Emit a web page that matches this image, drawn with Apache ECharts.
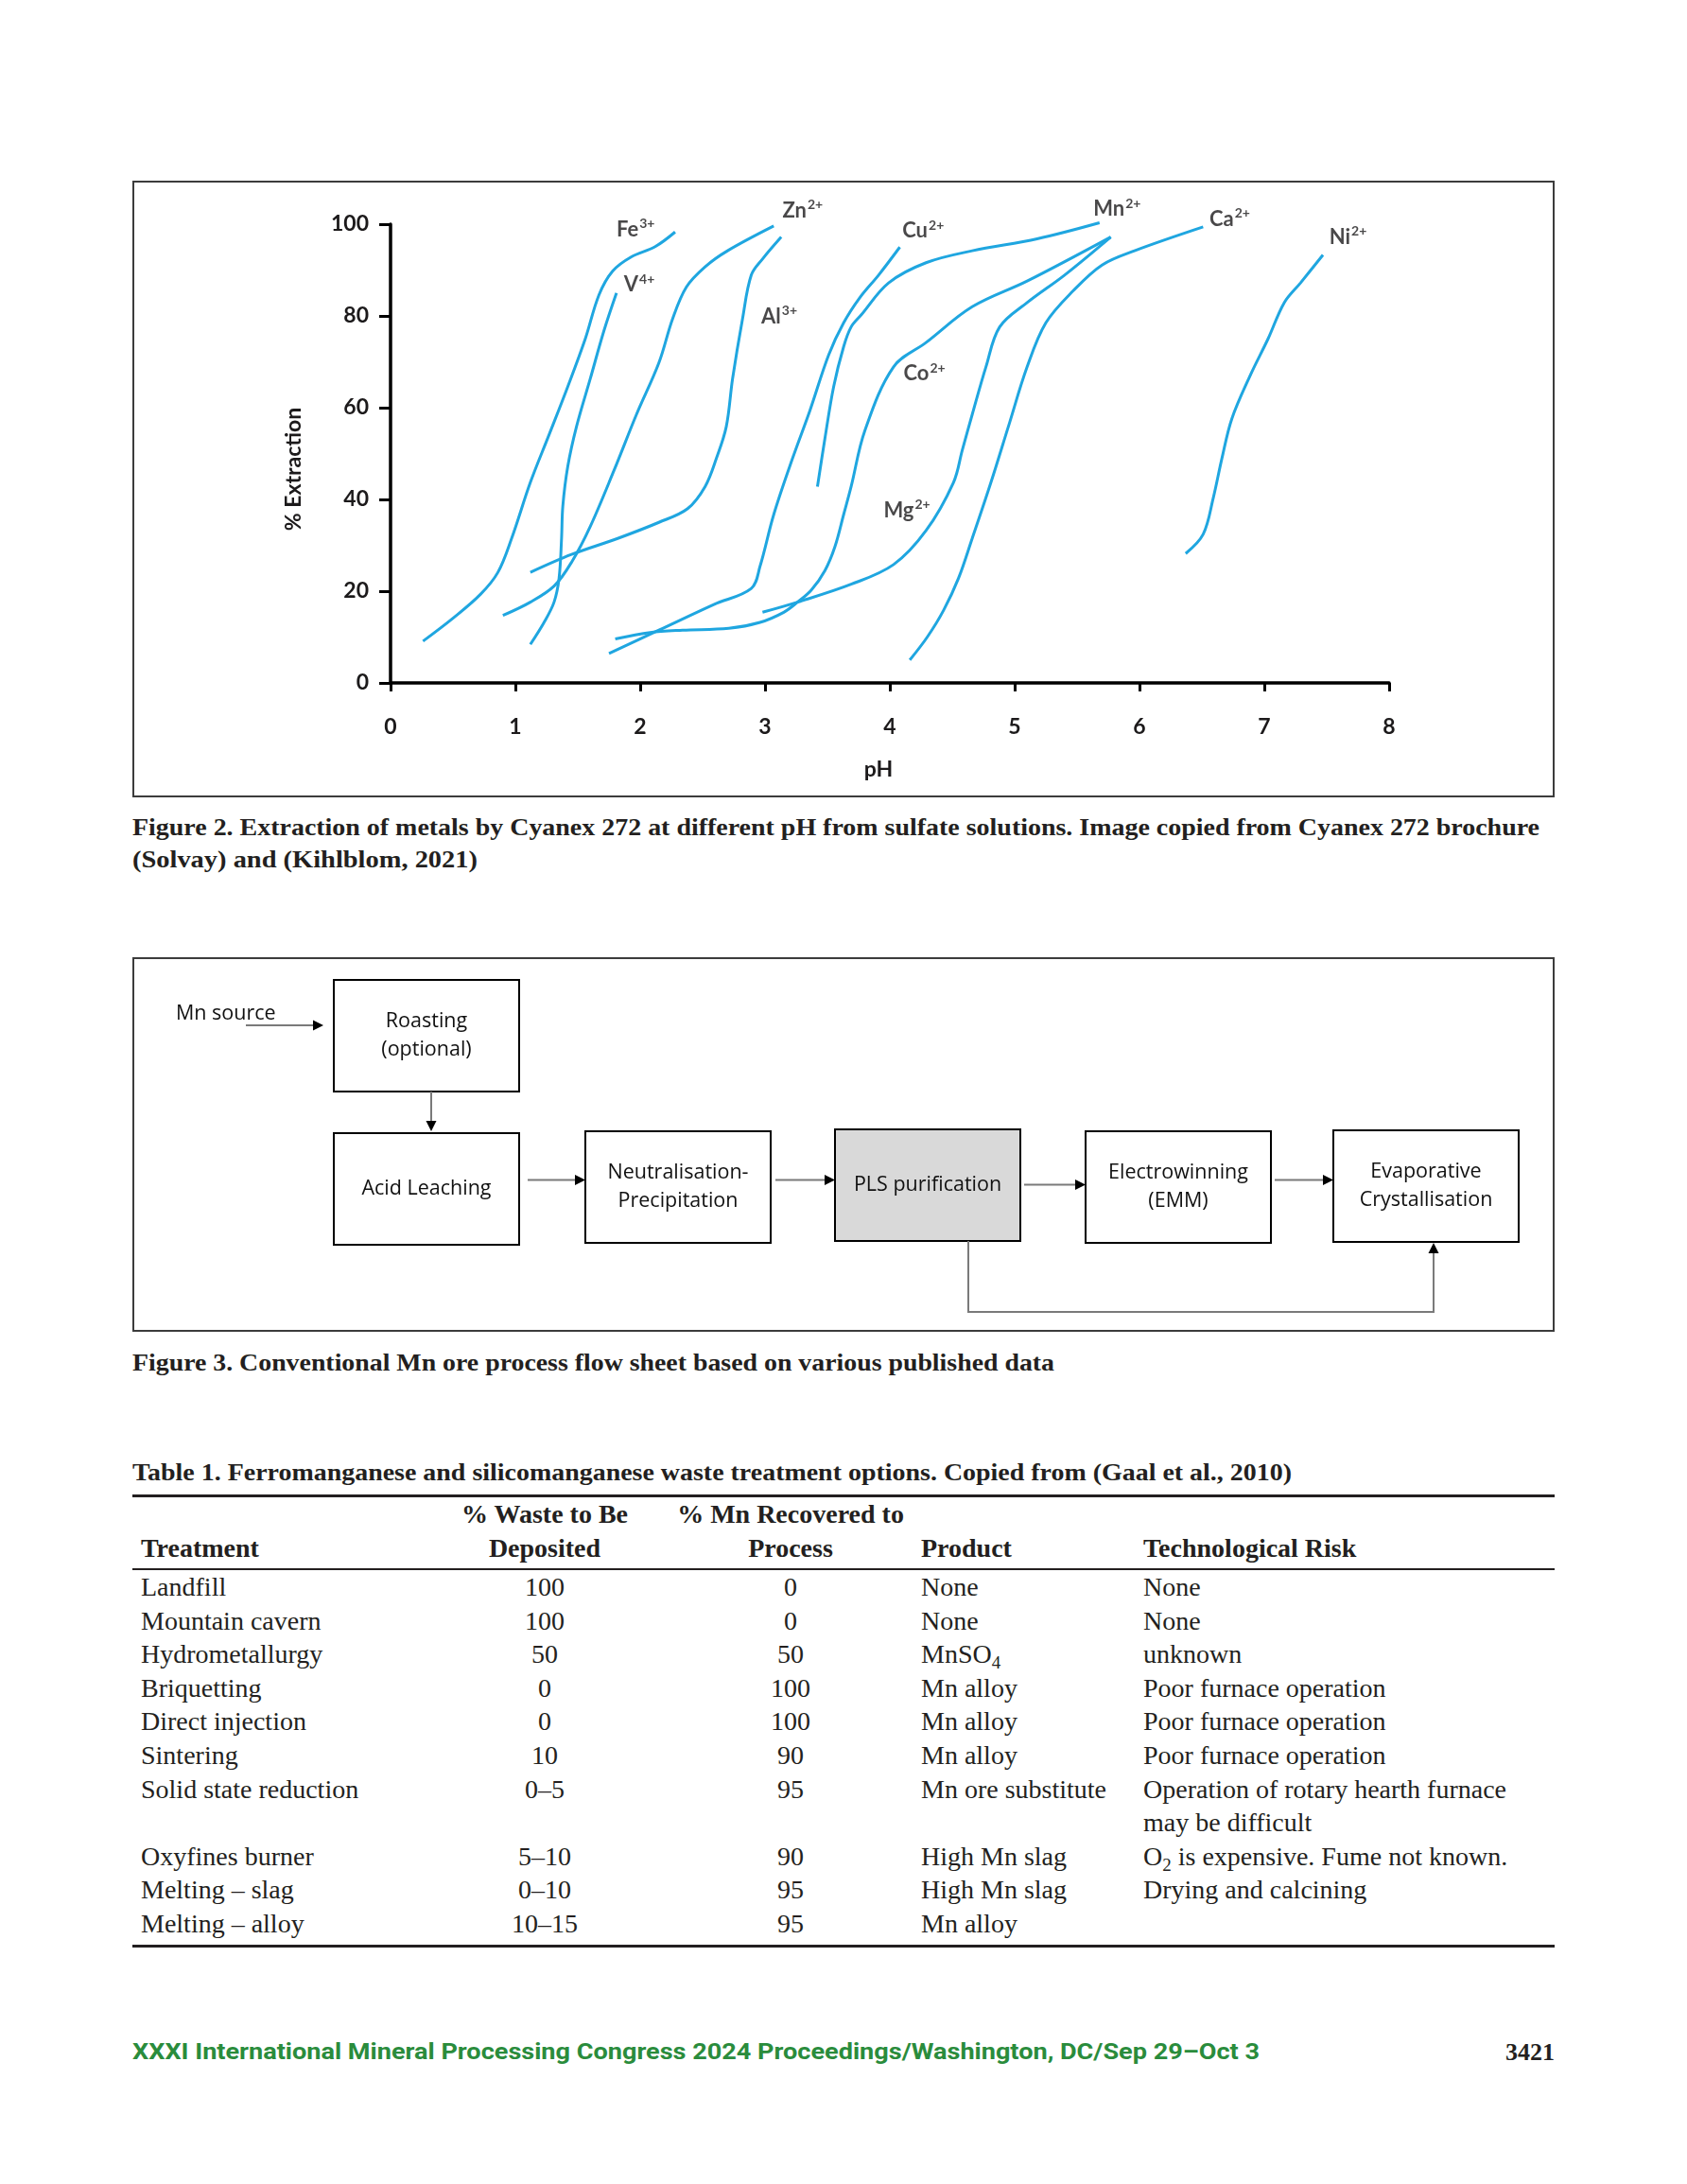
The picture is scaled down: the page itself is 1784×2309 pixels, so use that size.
<!DOCTYPE html>
<html><head><meta charset="utf-8">
<script src="https://cdn.jsdelivr.net/npm/echarts@6/dist/echarts.min.js"></script>
<style>
html,body{margin:0;padding:0;background:#fff;}
body{width:1784px;height:2309px;position:relative;overflow:hidden;}
.abs{position:absolute;white-space:nowrap;}
.frame{position:absolute;border:2px solid #3c3c3c;box-sizing:border-box;}
.cap{font-family:"Liberation Serif",serif;font-weight:bold;font-size:26px;color:#231f20;line-height:34px;transform-origin:0 50%;}
.tb{font-family:"Liberation Serif",serif;font-size:28px;color:#231f20;line-height:36px;}
.tb.b{font-weight:bold;}
.ctr{transform:translateX(-50%);text-align:center;}
.rule{position:absolute;left:140px;width:1504px;background:#231f20;}
sub{font-size:19px;vertical-align:-6px;line-height:0;}
#foot{font-family:Roboto,sans-serif;font-weight:bold;font-size:23px;color:#2a8c3c;line-height:30px;transform-origin:0 50%;}
#pnum{font-family:"Liberation Serif",serif;font-weight:bold;font-size:26px;color:#231f20;line-height:30px;}
</style></head><body>

<div class="frame" style="left:140px;top:191px;width:1504px;height:652px;"></div>
<div id="c1" class="abs" style="left:140px;top:191px;width:1504px;height:652px;"></div>

<div class="abs cap fit" data-w="1488" style="left:140px;top:858px;">Figure 2. Extraction of metals by Cyanex 272 at different pH from sulfate solutions. Image copied from Cyanex 272 brochure</div>
<div class="abs cap fit" data-w="365" style="left:140px;top:892px;">(Solvay) and (Kihlblom, 2021)</div>

<div class="frame" style="left:140px;top:1012px;width:1504px;height:396px;"></div>
<div id="c2" class="abs" style="left:140px;top:1012px;width:1504px;height:396px;"></div>

<div class="abs cap fit" data-w="975" style="left:140px;top:1424px;">Figure 3. Conventional Mn ore process flow sheet based on various published data</div>

<div class="abs cap fit" data-w="1226" style="left:140px;top:1540px;">Table 1. Ferromanganese and silicomanganese waste treatment options. Copied from (Gaal et al., 2010)</div>
<div id="tbl"></div>

<div id="foot" class="abs fit" data-w="1192" style="left:140px;top:2155px;">XXXI International Mineral Processing Congress 2024 Proceedings/Washington, DC/Sep 29–Oct 3</div>
<div id="pnum" class="abs" style="right:140px;top:2155px;">3421</div>

<script>
// ---------- Figure 2 data: pH vs % extraction ----------
const fe3 = [[0.26,9.1],[0.50,14.1],[0.72,19.3],[0.86,24.1],[0.97,31.5],[1.12,43.7],[1.27,54.1],[1.42,64.6],[1.56,75],[1.67,84.6],[1.78,89.8],[1.93,92.9],[2.12,95.1],[2.28,98.3]];
const v4  = [[1.12,8.4],[1.23,13.2],[1.31,17.6],[1.35,22.8],[1.37,31.5],[1.38,38.5],[1.42,47.2],[1.49,55.9],[1.6,66.3],[1.71,76.8],[1.81,85]];
const zn2 = [[0.9,14.7],[1.12,17.6],[1.31,21.1],[1.45,26.3],[1.6,34.1],[1.79,46.3],[1.97,58.5],[2.15,69.8],[2.26,79.4],[2.37,86.3],[2.52,90.7],[2.7,94.2],[3.07,99.6]];
const al3 = [[1.12,24.1],[1.45,28],[1.82,31.5],[2.15,35],[2.38,38],[2.52,42.8],[2.61,48.9],[2.69,55.9],[2.74,66.3],[2.82,79.4],[2.89,88.9],[2.98,92.4],[3.13,97.2]];
const cu2 = [[1.75,6.4],[2.15,11.5],[2.59,17.1],[2.89,20.6],[2.96,25.4],[3.07,36.7],[3.22,48.9],[3.36,59.4],[3.51,71.5],[3.63,78.5],[3.76,84],[3.91,88.9],[4.08,95]];
const mn2 = [[3.42,42.8],[3.48,53.3],[3.55,64.6],[3.63,73.3],[3.69,77.6],[3.77,80.2],[3.99,87.2],[4.29,91.6],[4.66,94.2],[5.18,96.8],[5.68,100.3]];
const co2 = [[1.8,9.6],[2.08,11],[2.34,11.5],[2.71,11.9],[2.96,13.2],[3.15,15.4],[3.26,17.6],[3.37,20.2],[3.48,24.5],[3.56,29.7],[3.63,36.7],[3.69,42.8],[3.8,55],[4.03,68.9],[4.29,74.2],[4.66,82],[5.1,87.6],[5.77,97.2]];
const mg2 = [[2.98,15.4],[3.26,17.6],[3.69,21.5],[4.03,25.8],[4.29,33.2],[4.51,43.7],[4.58,50.7],[4.66,58.5],[4.77,68.9],[4.88,77.6],[5.1,82.9],[5.4,88.9],[5.77,97.2]];
const ca2 = [[4.16,5],[4.3,10],[4.43,15.8],[4.55,22.8],[4.66,31.5],[4.81,43.7],[4.95,55.9],[5.1,68.9],[5.25,78.5],[5.47,85.5],[5.7,91.1],[5.96,94.2],[6.51,99.4]];
const ni2 = [[6.37,28.2],[6.51,32.4],[6.59,40.2],[6.66,48.9],[6.74,57.6],[6.89,67.2],[7.03,75],[7.16,82.9],[7.29,87.2],[7.47,93.3]];
const ionNames = ['Fe','V','Zn','Al','Cu','Mn','Co','Mg','Ca','Ni'];
const ionCharges = ['3+','4+','2+','3+','2+','2+','2+','2+','2+','2+'];
const ionSeries = [fe3, v4, zn2, al3, cu2, mn2, co2, mg2, ca2, ni2];
// label anchors in data units (pH, % extraction)
const ionLabelAt = [[1.81,98.8],[1.87,86.8],[3.14,102.9],[2.97,79.8],[4.10,98.5],[5.63,103.3],[4.11,67.4],[3.95,37.6],[6.56,101.1],[7.52,97.2]];
const xTicks = [0,1,2,3,4,5,6,7,8];
const yTicks = [0,20,40,60,80,100];

// ---------- Figure 3 flow sheet ----------
const flowBoxes = [
  {lines:['Roasting','(optional)']},
  {lines:['Acid Leaching']},
  {lines:['Neutralisation-','Precipitation']},
  {lines:['PLS purification'], fill:'#d9d9d9'},
  {lines:['Electrowinning','(EMM)']},
  {lines:['Evaporative','Crystallisation']}
];
const flowSourceLabel = 'Mn source';

// ---------- Table 1 ----------
const tHeadTop = ['', '% Waste to Be', '% Mn Recovered to', '', ''];
const tHeadBot = ['Treatment', 'Deposited', 'Process', 'Product', 'Technological Risk'];
const treatments = ['Landfill','Mountain cavern','Hydrometallurgy','Briquetting','Direct injection','Sintering','Solid state reduction','Oxyfines burner','Melting – slag','Melting – alloy'];
const wastePct = ['100','100','50','0','0','10','0–5','5–10','0–10','10–15'];
const mnRecovered = ['0','0','50','100','100','90','95','90','95','95'];
const products = ['None','None','MnSO<sub>4</sub>','Mn alloy','Mn alloy','Mn alloy','Mn ore substitute','High Mn slag','High Mn slag','Mn alloy'];
const risks = ['None','None','unknown','Poor furnace operation','Poor furnace operation','Poor furnace operation','Operation of rotary hearth furnace|may be difficult','O<sub>2</sub> is expensive. Fume not known.','Drying and calcining',''];

// ================= Figure 2 =================
const INK = '#1c1a1b';
const AXF = 'Lato, "Noto Sans", sans-serif';
const c1 = echarts.init(document.getElementById('c1'));
const lineSeries = ionSeries.map((d,i)=>({
  type:'line', name: ionNames[i]+ionCharges[i], data:d, smooth:0.35, symbol:'none', clip:false, silent:true,
  lineStyle:{color:'#1fa6e0', width:3}
}));
lineSeries.push({
  type:'scatter', name:'labels', clip:false, silent:true, symbolSize:0,
  data: ionLabelAt.map((p,i)=>({value:p, nm:ionNames[i], ch:ionCharges[i]})),
  label:{show:true, position:'right', distance:0,
    formatter:(p)=>'{m|'+p.data.nm+'}{s|'+p.data.ch+'}',
    rich:{
      m:{fontFamily:AXF, fontWeight:'bold', fontSize:22, color:INK, lineHeight:26},
      s:{fontFamily:AXF, fontWeight:'bold', fontSize:14, color:INK, lineHeight:26, verticalAlign:'top', padding:[0,0,0,1]}
    }}
});
c1.setOption({
  animation:false,
  grid:{left:273, top:46, width:1056, height:485, containLabel:false},
  xAxis:{type:'value', min:0, max:8, interval:1,
    axisLine:{show:true, onZero:false, lineStyle:{color:'#000', width:3.5}},
    axisTick:{show:true, length:9, lineStyle:{color:'#000', width:3}},
    axisLabel:{margin:35, fontFamily:AXF, fontWeight:'bold', fontSize:23, color:INK,
      formatter:(v)=>xTicks.includes(v)?String(v):''},
    splitLine:{show:false}},
  yAxis:{type:'value', min:0, max:100, interval:20,
    axisLine:{show:true, onZero:false, lineStyle:{color:'#000', width:3.5}},
    axisTick:{show:true, length:12, lineStyle:{color:'#000', width:3}},
    axisLabel:{margin:23, fontFamily:AXF, fontWeight:'bold', fontSize:23, color:INK,
      formatter:(v)=>yTicks.includes(v)?String(v):''},
    splitLine:{show:false}},
  graphic:[
    {type:'text', x:171, y:305, rotation:Math.PI/2,
      style:{text:'% Extraction', fontFamily:AXF, fontWeight:'bold', fontSize:23, fill:INK, align:'center', verticalAlign:'middle'}},
    {type:'text', x:789, y:623,
      style:{text:'pH', fontFamily:AXF, fontWeight:'bold', fontSize:23, fill:INK, align:'center', verticalAlign:'middle'}}
  ],
  series: lineSeries
});

// ================= Figure 3 =================
const c2 = echarts.init(document.getElementById('c2'));
const boxGeom = [[213,24],[213,186],[479,184],[743,182],[1008,184],[1270,183]];
const FF = '"Open Sans", "Noto Sans", sans-serif';
const g = [];
flowBoxes.forEach((b,i)=>{
  const [x,y] = boxGeom[i];
  g.push({type:'rect', shape:{x:x, y:y, width:196, height:118}, style:{fill:b.fill||'#fff', stroke:'#000', lineWidth:2}});
  const cy = y+59, n=b.lines.length;
  b.lines.forEach((t,k)=>{
    g.push({type:'text', x:x+98, y:cy+(k-(n-1)/2)*29.5, style:{text:t, fontFamily:FF, fontSize:21.5, fill:'#111', align:'center', verticalAlign:'middle'}});
  });
});
function arrow(pts){
  const last = pts[pts.length-1], prev = pts[pts.length-2];
  const dx = last[0]-prev[0], dy = last[1]-prev[1], L=Math.hypot(dx,dy), ux=dx/L, uy=dy/L;
  const hl=11, hw=5.5;
  const base=[last[0]-ux*hl, last[1]-uy*hl];
  const linePts = pts.slice(0,-1).concat([base]);
  g.push({type:'polyline', shape:{points:linePts}, style:{stroke:'#7a7a7a', lineWidth:2, fill:null}});
  g.push({type:'polygon', shape:{points:[last,[base[0]-uy*hw, base[1]+ux*hw],[base[0]+uy*hw, base[1]-ux*hw]]}, style:{fill:'#000'}});
}
arrow([[120,72],[202,72]]);
arrow([[316,142],[316,184]]);
arrow([[418,235.5],[479,235.5]]);
arrow([[680,235.5],[743,235.5]]);
arrow([[943,240.5],[1008,240.5]]);
arrow([[1208,235.5],[1270,235.5]]);
arrow([[884,300],[884,375],[1376,375],[1376,302]]);
g.push({type:'text', x:46, y:60, style:{text:flowSourceLabel, fontFamily:FF, fontSize:21.5, fill:'#111', align:'left', verticalAlign:'middle'}});
c2.setOption({animation:false, graphic:g});

// ================= Table 1 =================
const tbl = document.getElementById('tbl');
function put(html, x, yc, cls, mode){
  const d = document.createElement('div');
  d.className = 'abs tb '+(cls||'') + (mode==='c'?' ctr':'');
  d.style.left = x+'px'; d.style.top = (yc-18)+'px';
  d.innerHTML = html; tbl.appendChild(d); return d;
}
const colX = [149, 576, 836, 974, 1209];
const colMode = ['l','c','c','l','l'];
[[1581,3],[1659,2],[2057,3]].forEach(([y,h])=>{
  const r=document.createElement('div'); r.className='rule'; r.style.top=(y-h/2)+'px'; r.style.height=h+'px'; tbl.appendChild(r);
});
tHeadTop.forEach((t,i)=>{ if(t) put(t, colX[i], 1601, 'b', colMode[i]); });
tHeadBot.forEach((t,i)=>{ put(t, colX[i], 1637, 'b', colMode[i]); });
const rowLine = [0,1,2,3,4,5,6,8,9,10];
const cols = [treatments, wastePct, mnRecovered, products, risks];
treatments.forEach((_,r)=>{
  const yc = 1678 + rowLine[r]*35.6;
  cols.forEach((col,c)=>{
    const parts = col[r].split('|');
    parts.forEach((p,k)=>{ if(p) put(p, colX[c], yc + k*35.6, '', colMode[c]); });
  });
});

// fit caption widths
document.querySelectorAll('.fit').forEach(el=>{
  const w = el.getBoundingClientRect().width, t = +el.dataset.w;
  if (w>0) el.style.transform = 'scaleX('+(t/w)+')';
});
</script>
</body></html>
